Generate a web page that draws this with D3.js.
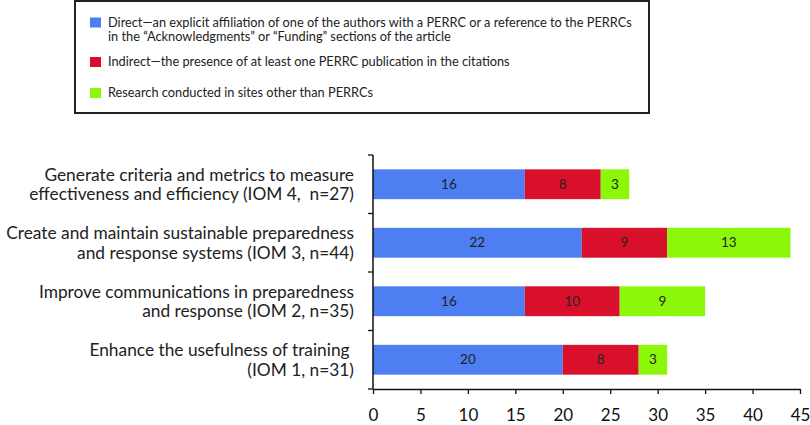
<!DOCTYPE html>
<html><head><meta charset="utf-8">
<script src="https://cdn.jsdelivr.net/npm/d3@7"></script>
<style>body{margin:0;background:#fff;} text{font-family:Lato,"Open Sans",sans-serif;white-space:pre;}</style>
</head><body><svg id="c" width="810" height="425"></svg>
<script>
const categories = [
  ["Generate criteria and metrics to measure", "effectiveness and efficiency (IOM 4,  n=27)"],
  ["Create and maintain sustainable preparedness", "and response systems (IOM 3, n=44)"],
  ["Improve communications in preparedness", "and response (IOM 2, n=35)"],
  ["Enhance the usefulness of training ", "(IOM 1, n=31)"]
];
const direct = [16, 22, 16, 20];
const indirect = [8, 9, 10, 8];
const other = [3, 13, 9, 3];
const seriesNames = [
  ["Direct\u2014an explicit affiliation of one of the authors with a PERRC or a reference to the PERRCs", "in the \u201CAcknowledgments\u201D or \u201CFunding\u201D sections of the article"],
  ["Indirect\u2014the presence of at least one PERRC publication in the citations"],
  ["Research conducted in sites other than PERRCs"]
];
const colors = ["#4d7ef2", "#d8102b", "#8df70a"];
const xTicks = [0,5,10,15,20,25,30,35,40,45];

const svg = d3.select("#c");
const x = d3.scaleLinear().domain([0,45]).range([373,800]);
const y = d3.scaleBand().domain(d3.range(categories.length)).range([155,389]).paddingInner(0.49).paddingOuter(0.245);

const rows = categories.map((c,i)=>({i, d:direct[i], ind:indirect[i], o:other[i]}));
const stack = d3.stack().keys(["d","ind","o"])(rows);

stack.forEach((s,k)=>{
  const g = svg.append("g");
  g.selectAll("rect").data(s).enter().append("rect")
    .attr("x", d=>x(d[0])).attr("width", d=>x(d[1])-x(d[0]))
    .attr("y", (d,i)=>y(i)).attr("height", y.bandwidth())
    .attr("fill", colors[k]);
  g.selectAll("text").data(s).enter().append("text")
    .attr("x", d=>(x(d[0])+x(d[1]))/2).attr("y", (d,i)=>y(i)+y.bandwidth()/2)
    .attr("dy","0.35em").attr("text-anchor","middle")
    .attr("font-size",13.5).attr("fill","#222")
    .text(d=>d[1]-d[0]);
});

// x axis
const xa = svg.append("g").attr("transform","translate(0,389)")
  .call(d3.axisBottom(x).tickValues(xTicks).tickSize(5).tickSizeOuter(0).tickPadding(15));
xa.select(".domain").attr("stroke","#111").attr("stroke-width",1.5);
xa.selectAll(".tick line").attr("stroke","#111").attr("stroke-width",1.3);
xa.selectAll("text").attr("font-size",17).attr("fill","#111");

// y axis with ticks at band boundaries
const yl = svg.append("g");
yl.append("line").attr("x1",373).attr("x2",373).attr("y1",155).attr("y2",389).attr("stroke","#111").attr("stroke-width",1.5);
const step = y.step();
const bounds = d3.range(categories.length+1).map(i=> y(0) - step*y.paddingOuter() + i*step);
yl.selectAll("line.t").data(bounds).enter().append("line").attr("class","t")
  .attr("x1",368).attr("x2",373).attr("y1",d=>d).attr("y2",d=>d).attr("stroke","#111").attr("stroke-width",1.3);

// fit helper: find font size giving a target width for a sample string
function fitSize(str, target, base){
  const t = svg.append("text").attr("font-size",base).text(str);
  let s = base;
  for(let it=0; it<6; it++){
    t.attr("font-size", s);
    const w = t.node().getComputedTextLength();
    s = s * target / w;
  }
  t.remove();
  return s;
}

// category labels
const catSize = fitSize(categories[1][0], 348, 17);
categories.forEach((lines,i)=>{
  const cy = y(i)+y.bandwidth()/2;
  const t = svg.append("text").attr("text-anchor","end").attr("font-size",catSize).attr("fill","#222");
  lines.forEach((l,j)=>{
    t.append("tspan").attr("x",354).attr("y", cy + (j-0.5)*19.5).attr("dy","0.35em").text(l);
  });
});

// legend
svg.append("rect").attr("x",75).attr("y",1).attr("width",574).attr("height",112)
  .attr("fill","none").attr("stroke","#222").attr("stroke-width",2);
const legSize = fitSize(seriesNames[0][0], 524, 13);
const legY = [22.5, 62, 93];
seriesNames.forEach((lines,k)=>{
  svg.append("rect").attr("x",90).attr("y",legY[k]-5).attr("width",11).attr("height",10).attr("fill",colors[k]);
  const t = svg.append("text").attr("font-size",legSize).attr("fill","#222");
  lines.forEach((l,j)=>{
    t.append("tspan").attr("x",108).attr("y",legY[k]+j*14.5).attr("dy","0.35em").text(l);
  });
});
</script></body></html>
